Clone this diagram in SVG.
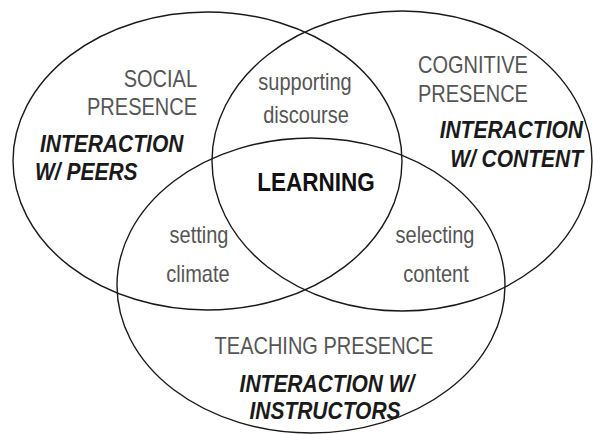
<svg xmlns="http://www.w3.org/2000/svg" width="593" height="434" viewBox="0 0 593 434">
<style>
.c{fill:none;stroke:#1a1a1a;stroke-width:1.4}
.t{font-family:"Liberation Sans",Arial,sans-serif;font-size:20px;fill:#555}
.b{font-family:"Liberation Sans",Arial,sans-serif;font-size:21px;font-weight:bold;font-style:italic;fill:#1a1a1a}
.l{font-family:"Liberation Sans",Arial,sans-serif;font-size:22.5px;font-weight:bold;fill:#111}
.e{text-anchor:end}.m{text-anchor:middle}
</style>
<rect width="593" height="434" fill="#fff"/>
<g id="connectors"></g>
<g id="social">
<ellipse class="c" cx="207.5" cy="161" rx="194.5" ry="149"/>
<text class="t e" transform="translate(197,87) scale(1,1.18)">SOCIAL</text>
<text class="t e" transform="translate(197,115) scale(1,1.18)">PRESENCE</text>
<text class="b" transform="translate(40,152) scale(1,1.15)">INTERACTION</text>
<text class="b" transform="translate(35,180) scale(1,1.15)">W/ PEERS</text>
</g>
<g id="cognitive">
<ellipse class="c" cx="402" cy="161" rx="190" ry="150"/>
<text class="t" transform="translate(418,73) scale(1,1.18)">COGNITIVE</text>
<text class="t" transform="translate(418,102) scale(1,1.18)">PRESENCE</text>
<text class="b e" transform="translate(583,138) scale(1,1.15)">INTERACTION</text>
<text class="b e" transform="translate(583,167) scale(1,1.15)">W/ CONTENT</text>
</g>
<g id="teaching">
<ellipse class="c" cx="311" cy="285.5" rx="194" ry="147.5"/>
<text class="t m" transform="translate(324,354) scale(1,1.18)">TEACHING PRESENCE</text>
<text class="b m" transform="translate(327,392) scale(1,1.15)">INTERACTION W/</text>
<text class="b m" transform="translate(325,419) scale(1,1.15)">INSTRUCTORS</text>
</g>
<g id="supporting">
<text class="t m" transform="translate(305,90) scale(1,1.18)">supporting</text>
<text class="t m" transform="translate(306,123) scale(1,1.18)">discourse</text>
</g>
<g id="learning">
<text class="l m" transform="translate(316,191) scale(1,1.15)">LEARNING</text>
</g>
<g id="setting">
<text class="t m" transform="translate(199,243) scale(1,1.18)">setting</text>
<text class="t m" transform="translate(198,282) scale(1,1.18)">climate</text>
</g>
<g id="selecting">
<text class="t m" transform="translate(435,243) scale(1,1.18)">selecting</text>
<text class="t m" transform="translate(436,282) scale(1,1.18)">content</text>
</g>
</svg>
